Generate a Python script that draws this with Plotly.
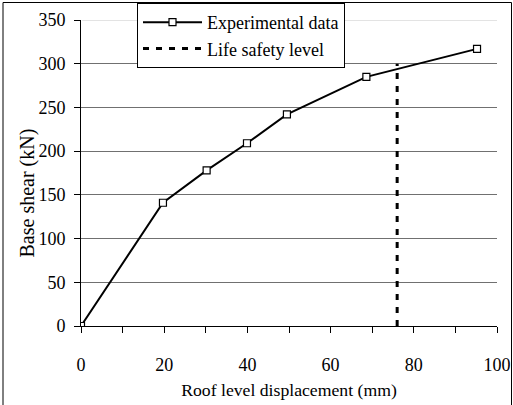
import plotly.graph_objects as go

displacement = [0, 19.7, 30.2, 39.9, 49.5, 68.6, 95.2]
base_shear = [0, 141, 178, 209, 242, 285, 317]
life_safety_x = [76, 76]
life_safety_y = [0, 300]

FONT = "Liberation Serif, Times New Roman, serif"
W, H = 513, 405
L, R, T, B = 81, 16, 20, 79
PW, PH = W - L - R, H - T - B

fig = go.Figure()
fig.add_trace(go.Scatter(
    x=displacement, y=base_shear, mode="lines+markers", name="Experimental data",
    line=dict(color="black", width=2),
    marker=dict(symbol="square", size=7, color="white", line=dict(color="black", width=1.2)),
))
fig.add_trace(go.Scatter(
    x=life_safety_x, y=life_safety_y, mode="lines", name="Life safety level",
    line=dict(color="black", width=3, dash="6px,7px"),
))

fig.update_layout(
    width=W, height=H,
    margin=dict(l=L, r=R, t=T, b=B, autoexpand=False),
    paper_bgcolor="white", plot_bgcolor="white",
    font=dict(family=FONT, size=18, color="black"),
    showlegend=True,
    legend=dict(
        x=(137 - L) / PW, y=1 + (T - 3) / PH, xanchor="left", yanchor="top",
        bgcolor="white", bordercolor="black", borderwidth=1,
        font=dict(size=18), tracegroupgap=0, itemwidth=59,
    ),
    xaxis=dict(
        range=[0, 100], dtick=20, tick0=0, automargin=False,
        showline=True, linecolor="black", linewidth=1,
        ticks="outside", ticklen=6, tickcolor="black",
        minor=dict(dtick=10, ticks="outside", ticklen=6, tickcolor="black"),
        showgrid=False, zeroline=False,
        ticklabelstandoff=16,
        tickfont=dict(size=18),
        title=dict(text="Roof level displacement (mm)", standoff=10, font=dict(size=17.7)),
    ),
    yaxis=dict(
        range=[0, 350], dtick=50, tick0=0, automargin=False,
        showline=True, linecolor="black", linewidth=1,
        ticks="outside", ticklen=6, tickcolor="black",
        showgrid=True, gridcolor="#707070", gridwidth=1, zeroline=False,
        ticklabelstandoff=5,
        tickfont=dict(size=18),
    ),
    annotations=[dict(
        text="Base shear (kN)", xref="paper", yref="paper",
        x=(27 - L) / PW, y=(H - B - 192.5) / PH, xanchor="center", yanchor="middle",
        textangle=-90, showarrow=False, font=dict(size=20),
    )],
    shapes=[
        dict(type="rect", xref="paper", yref="paper",
             x0=(3 - L) / PW, x1=(511.5 - L) / PW,
             y0=(H - B - 410) / PH, y1=1 + (T - 2.5) / PH,
             line=dict(color="black", width=1), layer="above"),
        dict(type="line", xref="paper", yref="y", x0=0.003, x1=1, y0=350, y1=350,
             line=dict(color="#c8c8c8", width=1), layer="above"),
    ],
)

fig.write_html(
    "out.html",
    config={"displayModeBar": False},
    post_script="document.body.style.margin='0';document.body.style.overflow='hidden';",
)
